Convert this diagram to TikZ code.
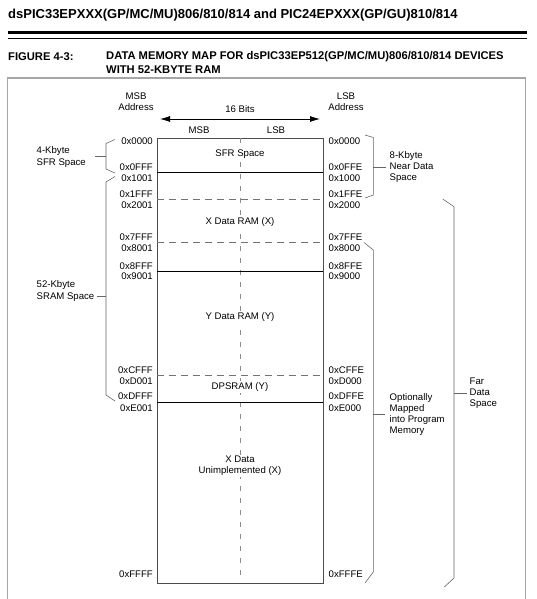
\documentclass[tikz,border=0pt]{standalone}
\usepackage{fontspec}
\setmainfont{Liberation Sans}
\usetikzlibrary{arrows.meta}
\begin{document}
\begin{tikzpicture}[x=1pt,y=-1pt,
  lbl/.style={font=\fontsize{9.6}{11.3}\selectfont, inner sep=0pt, align=left},
  addrL/.style={lbl, anchor=east},
  addrR/.style={lbl, anchor=west},
  inlbl/.style={lbl, align=center, fill=white, inner sep=1.5pt},
  capf/.style={anchor=west, inner sep=0pt, font=\bfseries\fontsize{11.2}{13}\selectfont},
  blk/.style={draw=black!70, line width=0.8pt},
  solidln/.style={draw=black, line width=0.8pt},
  dline/.style={draw=black!55, line width=0.7pt, dash pattern=on 7pt off 5pt},
  vdline/.style={draw=black!45, line width=0.7pt, dash pattern=on 5pt off 7pt},
  brk/.style={draw=black!60, line width=0.6pt},
  frm/.style={draw=black!35, line width=1.3pt}]
\useasboundingbox (0,0) rectangle (536,599);

% header
\node[anchor=west, inner sep=0pt, font=\bfseries\fontsize{13}{15}\selectfont] (hdr) at (8,15)
  {dsPIC33EPXXX(GP/MC/MU)806/810/814 and PIC24EPXXX(GP/GU)810/814};
\draw[line width=3pt] (8,33) -- (527,33);
\draw[line width=0.8pt] (8,38.5) -- (527,38.5);

\node[capf] (fig) at (8,57) {FIGURE 4-3:};
\node[capf] (cap1) at (106,57)
  {DATA MEMORY MAP FOR dsPIC33EP512(GP/MC/MU)806/810/814 DEVICES};
\node[capf] (cap2) at (106,69.5)
  {WITH 52-KBYTE RAM};

% frame
\draw[frm] (7.5,599) -- (7.5,78) -- (525.5,78) -- (525.5,599);

% top labels
\node[lbl, align=center] (msbaddr) at (136,102) {MSB\\Address};
\node[lbl, align=center] (lsbaddr) at (346,102) {LSB\\Address};
\node[lbl] (bits) at (240,109) {16 Bits};
\coordinate (al) at (160,119);
\coordinate (ar) at (320,119);
\draw[line width=0.8pt, {Latex[length=10pt,width=6pt]}-{Latex[length=10pt,width=6pt]}] (al) -- (ar);
\node[lbl] (msb) at (199,130.5) {MSB};
\node[lbl] (lsb) at (276,130.5) {LSB};

% memory block
\node[blk, minimum width=166pt, minimum height=445pt, inner sep=0pt, anchor=north west] (mem) at (157,138) {};
\draw[vdline] (240,138) -- (240,577);
\draw[solidln] (157,172.5) -- (323,172.5);
\draw[dline] (157,199.5) -- (323,199.5);
\draw[dline] (157,242.5) -- (323,242.5);
\draw[solidln] (157,271) -- (323,271);
\draw[dline] (157,375) -- (323,375);
\draw[solidln] (157,402) -- (323,402);

\node[inlbl] (sfr) at (240,154.5) {SFR Space};
\node[inlbl] (xram) at (240,222) {X Data RAM (X)};
\node[inlbl] (yram) at (240,317) {Y Data RAM (Y)};
\node[inlbl] (dps) at (240,387) {DPSRAM (Y)};
\node[inlbl] (xun) at (240,466) {X Data\\Unimplemented (X)};

% left addresses
\node[addrL] (l0) at (153,141.5) {0x0000};
\node[addrL] (l1) at (153,167.5) {0x0FFF};
\node[addrL] (l2) at (153,178) {0x1001};
\node[addrL] (l3) at (153,194.3) {0x1FFF};
\node[addrL] (l4) at (153,205.3) {0x2001};
\node[addrL] (l5) at (153,237.5) {0x7FFF};
\node[addrL] (l6) at (153,248.3) {0x8001};
\node[addrL] (l7) at (153,265.7) {0x8FFF};
\node[addrL] (l8) at (153,276.3) {0x9001};
\node[addrL] (l9) at (153,370) {0xCFFF};
\node[addrL] (l10) at (153,380.7) {0xD001};
\node[addrL] (l11) at (153,396.5) {0xDFFF};
\node[addrL] (l12) at (153,408) {0xE001};
\node[addrL] (l13) at (153,574.5) {0xFFFF};

% right addresses
\node[addrR] (r0) at (328.5,141.5) {0x0000};
\node[addrR] (r1) at (328.5,167.5) {0x0FFE};
\node[addrR] (r2) at (328.5,178) {0x1000};
\node[addrR] (r3) at (328.5,194.3) {0x1FFE};
\node[addrR] (r4) at (328.5,205.3) {0x2000};
\node[addrR] (r5) at (328.5,237.5) {0x7FFE};
\node[addrR] (r6) at (328.5,248.3) {0x8000};
\node[addrR] (r7) at (328.5,265.7) {0x8FFE};
\node[addrR] (r8) at (328.5,276.3) {0x9000};
\node[addrR] (r9) at (328.5,370) {0xCFFE};
\node[addrR] (r10) at (328.5,380.7) {0xD000};
\node[addrR] (r11) at (328.5,396.5) {0xDFFE};
\node[addrR] (r12) at (328.5,408) {0xE000};
\node[addrR] (r13) at (328.5,574.5) {0xFFFE};

% left brackets
\node[lbl, anchor=west] (sfrsp) at (36.5,157) {4-Kbyte\\SFR Space};
\draw[brk] (115,139.5) -- (106,143.5) -- (106,169) -- (115,173);
\coordinate (t1) at (106,156);
\draw[brk] (t1) -- ++(-11,0);

\node[lbl, anchor=west] (sram) at (36.5,291) {52-Kbyte\\SRAM Space};
\draw[brk] (115,176.5) -- (106,182) -- (106,395) -- (115,401);
\coordinate (t2) at (106,296);
\draw[brk] (t2) -- ++(-9,0);

% right brackets
\node[lbl, anchor=west] (near) at (389.5,167) {8-Kbyte\\Near Data\\Space};
\draw[brk] (365,135) -- (373.3,137.5) -- (373.3,195) -- (365,198);
\coordinate (t3) at (373.3,167);
\draw[brk] (t3) -- ++(13,0);

\node[lbl, anchor=west] (opt) at (389.5,414.5) {Optionally\\Mapped\\into Program\\Memory};
\draw[brk] (364,242.5) -- (373.3,250) -- (373.3,572) -- (365,583);
\coordinate (t4) at (373.3,414);
\draw[brk] (t4) -- ++(12,0);

\node[lbl, anchor=west] (far) at (469.5,393) {Far\\Data\\Space};
\draw[brk] (442.7,199) -- (454,206.7) -- (454,578) -- (444.3,587);
\coordinate (t5) at (454,393);
\draw[brk] (t5) -- ++(12.5,0);
\end{tikzpicture}
\end{document}
